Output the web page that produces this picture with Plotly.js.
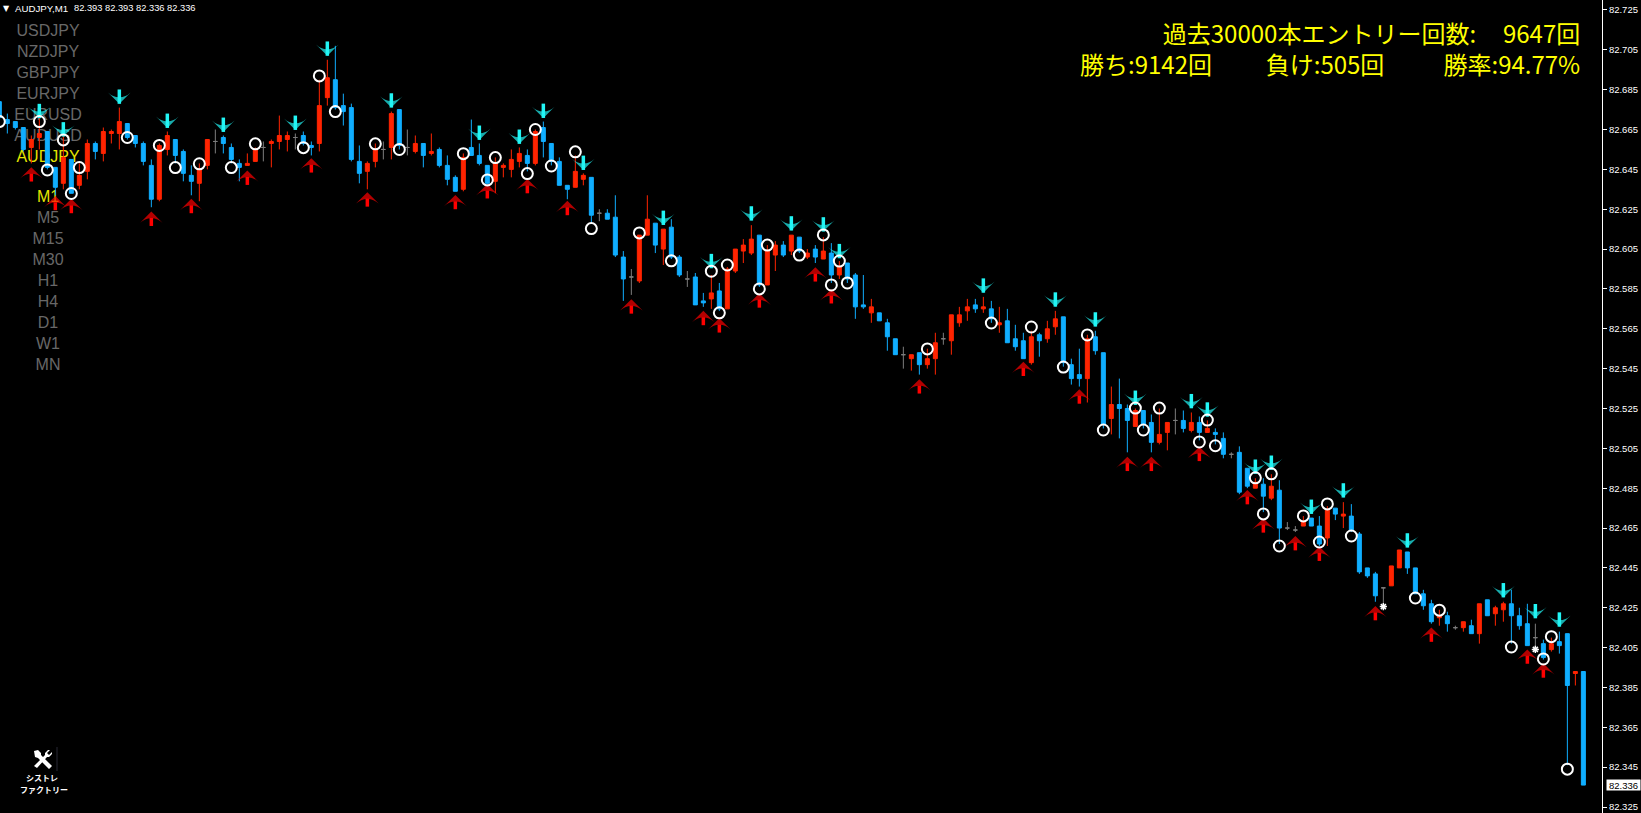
<!DOCTYPE html>
<html><head><meta charset="utf-8">
<script src="https://cdn.plot.ly/plotly-3.0.1.min.js"></script>
<style>html,body{margin:0;padding:0;background:#000;overflow:hidden}#c{width:1641px;height:813px}</style>
</head><body><div id="c"></div>
<script>
const opens=[82.679,82.670,82.669,82.666,82.656,82.661,82.664,82.646,82.638,82.650,
82.637,82.644,82.658,82.653,82.663,82.663,82.668,82.662,82.658,82.647,
82.630,82.655,82.660,82.654,82.642,82.638,82.647,82.659,82.661,82.656,
82.648,82.647,82.649,82.656,82.658,82.659,82.660,82.661,82.662,82.657,
82.658,82.681,82.690,82.677,82.676,82.649,82.644,82.649,82.655,82.656,
82.675,82.656,82.654,82.658,82.653,82.655,82.647,82.641,82.635,82.656,
82.652,82.647,82.639,82.646,82.645,82.649,82.652,82.648,82.666,82.658,
82.649,82.637,82.636,82.640,82.641,82.623,82.623,82.621,82.601,82.591,
82.589,82.612,82.618,82.605,82.616,82.601,82.590,82.591,82.579,82.580,
82.584,82.575,82.594,82.604,82.603,82.612,82.587,82.602,82.607,82.604,
82.611,82.601,82.605,82.600,82.603,82.592,82.598,82.592,82.577,82.573,
82.573,82.568,82.560,82.552,82.550,82.553,82.547,82.550,82.560,82.559,
82.568,82.574,82.577,82.575,82.575,82.567,82.569,82.560,82.559,82.548,
82.562,82.560,82.566,82.571,82.547,82.542,82.540,82.561,82.553,82.520,
82.527,82.525,82.516,82.524,82.518,82.508,82.513,82.519,82.519,82.514,
82.518,82.513,82.513,82.510,82.502,82.503,82.495,82.485,82.487,82.480,
82.484,82.465,82.464,82.466,82.470,82.466,82.460,82.475,82.471,82.471,
82.462,82.445,82.442,82.435,82.436,82.445,82.453,82.445,82.432,82.427,
82.420,82.421,82.415,82.415,82.416,82.412,82.429,82.422,82.424,82.427,
82.421,82.417,82.410,82.407,82.404,82.408,82.412,82.392,82.393];
const highs=[82.680,82.673,82.669,82.666,82.662,82.671,82.664,82.646,82.663,82.650,
82.648,82.660,82.659,82.666,82.665,82.676,82.668,82.662,82.659,82.650,
82.658,82.664,82.660,82.655,82.647,82.648,82.660,82.665,82.662,82.658,
82.650,82.653,82.656,82.659,82.660,82.672,82.664,82.663,82.664,82.659,
82.690,82.700,82.707,82.683,82.678,82.657,82.649,82.658,82.659,82.674,
82.675,82.665,82.662,82.658,82.663,82.656,82.652,82.642,82.653,82.670,
82.658,82.647,82.651,82.648,82.655,82.656,82.655,82.665,82.669,82.658,
82.651,82.637,82.652,82.643,82.641,82.625,82.625,82.632,82.604,82.595,
82.612,82.632,82.618,82.615,82.620,82.602,82.594,82.593,82.583,82.592,
82.588,82.596,82.605,82.610,82.617,82.612,82.607,82.609,82.609,82.612,
82.611,82.605,82.607,82.611,82.608,82.599,82.598,82.593,82.592,82.580,
82.573,82.570,82.560,82.556,82.552,82.553,82.555,82.563,82.563,82.572,
82.576,82.580,82.580,82.581,82.579,82.576,82.575,82.567,82.563,82.564,
82.563,82.569,82.574,82.571,82.550,82.555,82.562,82.564,82.553,82.536,
82.540,82.527,82.525,82.524,82.522,82.525,82.518,82.525,82.524,82.523,
82.521,82.519,82.515,82.513,82.503,82.506,82.495,82.490,82.490,82.492,
82.489,82.468,82.466,82.471,82.470,82.471,82.476,82.475,82.478,82.477,
82.463,82.445,82.443,82.435,82.446,82.454,82.453,82.445,82.434,82.429,
82.424,82.423,82.416,82.418,82.419,82.427,82.429,82.426,82.428,82.434,
82.425,82.427,82.417,82.409,82.410,82.413,82.412,82.393,82.393];
const lows=[82.668,82.663,82.665,82.654,82.648,82.655,82.645,82.632,82.635,82.633,
82.635,82.640,82.650,82.649,82.658,82.655,82.660,82.656,82.647,82.626,
82.629,82.652,82.648,82.639,82.632,82.629,82.645,82.653,82.653,82.648,
82.639,82.647,82.649,82.649,82.646,82.655,82.654,82.655,82.657,82.652,
82.654,82.677,82.675,82.667,82.649,82.638,82.635,82.646,82.650,82.650,
82.655,82.652,82.653,82.646,82.652,82.646,82.637,82.634,82.634,82.652,
82.647,82.637,82.633,82.641,82.641,82.646,82.644,82.647,82.651,82.647,
82.637,82.630,82.636,82.637,82.618,82.619,82.620,82.601,82.579,82.582,
82.588,82.612,82.603,82.597,82.600,82.591,82.586,82.577,82.576,82.575,
82.574,82.575,82.593,82.598,82.602,82.586,82.587,82.594,82.601,82.602,
82.603,82.600,82.598,82.600,82.588,82.590,82.588,82.570,82.575,82.568,
82.569,82.554,82.552,82.545,82.544,82.542,82.545,82.542,82.557,82.552,
82.566,82.569,82.573,82.573,82.568,82.563,82.558,82.554,82.550,82.547,
82.551,82.558,82.562,82.546,82.537,82.536,82.528,82.552,82.515,82.512,
82.510,82.503,82.516,82.515,82.503,82.507,82.504,82.512,82.513,82.513,
82.509,82.513,82.507,82.500,82.500,82.482,82.485,82.485,82.473,82.479,
82.457,82.464,82.463,82.466,82.466,82.456,82.456,82.469,82.465,82.463,
82.442,82.440,82.428,82.427,82.436,82.445,82.442,82.432,82.424,82.417,
82.416,82.413,82.414,82.413,82.412,82.407,82.421,82.416,82.418,82.407,
82.414,82.406,82.404,82.399,82.403,82.402,82.346,82.386,82.336];
const closes=[82.671,82.668,82.666,82.655,82.660,82.663,82.646,82.636,82.651,82.633,
82.642,82.658,82.654,82.664,82.664,82.669,82.661,82.658,82.649,82.630,
82.657,82.662,82.652,82.643,82.639,82.645,82.660,82.659,82.658,82.650,
82.646,82.648,82.655,82.656,82.659,82.662,82.662,82.661,82.658,82.656,
82.677,82.691,82.676,82.674,82.650,82.643,82.648,82.655,82.655,82.673,
82.657,82.656,82.658,82.652,82.654,82.647,82.640,82.634,82.651,82.652,
82.648,82.638,82.648,82.647,82.650,82.653,82.648,82.664,82.659,82.649,
82.637,82.635,82.644,82.642,82.622,82.623,82.620,82.602,82.590,82.591,
82.612,82.620,82.607,82.615,82.601,82.592,82.590,82.577,82.578,82.583,
82.575,82.595,82.605,82.607,82.610,82.587,82.604,82.607,82.602,82.612,
82.604,82.603,82.601,82.604,82.592,82.596,82.590,82.576,82.576,82.576,
82.569,82.561,82.552,82.552,82.552,82.547,82.550,82.558,82.560,82.572,
82.572,82.576,82.575,82.576,82.570,82.568,82.558,82.556,82.550,82.561,
82.559,82.565,82.570,82.548,82.540,82.540,82.560,82.554,82.517,82.527,
82.525,82.519,82.524,82.517,82.508,82.512,82.518,82.519,82.515,82.518,
82.513,82.515,82.512,82.502,82.502,82.483,82.486,82.488,82.481,82.486,
82.465,82.465,82.464,82.468,82.466,82.457,82.474,82.472,82.472,82.464,
82.443,82.441,82.431,82.435,82.446,82.454,82.445,82.432,82.426,82.418,
82.421,82.417,82.415,82.418,82.412,82.427,82.421,82.425,82.427,82.421,
82.416,82.406,82.410,82.400,82.407,82.406,82.386,82.393,82.336];

const cyanBars=[5,8,15,21,28,37,41,49,60,65,68,73,83,89,94,99,103,105,123,132,137,142,149,151,157,159,164,168,176,188,192,195];
const cyanTips=[82.6707,82.6615,82.6779,82.6658,82.6638,82.6648,82.7020,82.6760,82.6598,82.6578,82.6708,82.6447,82.6171,82.5954,82.6193,82.6143,82.6138,82.6004,82.5831,82.5761,82.5661,82.5268,82.5251,82.5209,82.4922,82.4942,82.4721,82.4803,82.4552,82.4302,82.4197,82.4155];
const redBars=[4,7,9,19,24,31,39,46,57,61,66,71,79,88,90,95,102,104,115,128,135,141,144,150,156,158,162,165,172,179,191,193];
const redTips=[82.6461,82.6317,82.6302,82.6238,82.6302,82.6444,82.6506,82.6335,82.6322,82.6376,82.6402,82.6292,82.5798,82.5740,82.5703,82.5828,82.5959,82.5849,82.5397,82.5485,82.5346,82.5008,82.5008,82.5058,82.4841,82.4699,82.4610,82.4557,82.4259,82.4151,82.4041,82.3971];
const circleBars=[0,5,6,8,9,10,16,20,22,25,29,32,38,40,42,47,50,58,61,62,66,67,69,72,74,80,84,89,90,91,95,96,100,103,104,105,106,116,124,129,133,136,138,142,143,145,150,151,152,157,158,159,160,163,165,166,169,177,180,189,193,194,196];
const circlePrices=[82.669,82.669,82.6447,82.6598,82.6329,82.6459,82.661,82.657,82.6459,82.6478,82.6459,82.6578,82.6559,82.6919,82.674,82.6578,82.655,82.6529,82.6397,82.6509,82.6429,82.665,82.6467,82.6538,82.6153,82.6131,82.5991,82.5939,82.573,82.597,82.585,82.607,82.602,82.6121,82.587,82.599,82.588,82.5549,82.5679,82.5659,82.5458,82.5619,82.5142,82.5252,82.5142,82.5252,82.5082,82.5192,82.5063,82.4902,82.4721,82.4922,82.456,82.4711,82.458,82.4771,82.461,82.4299,82.4238,82.4053,82.3993,82.4105,82.344];
const starBars=[173,192];
const starPrices=[82.4256,82.4041];

const priceTicks=[82.725,82.705,82.685,82.665,82.645,82.625,82.605,82.585,82.565,82.545,82.525,82.505,82.485,82.465,82.445,82.425,82.405,82.385,82.365,82.345,82.325];
const lastPrice=82.336;
const symbols=['USDJPY','NZDJPY','GBPJPY','EURJPY','EURUSD','AUDUSD','AUDJPY'];
const periods=['M1','M5','M15','M30','H1','H4','D1','W1','MN'];
const menuLabels=symbols.concat(periods);
const menuRows=[32,53,74,95,116,137,157.7,198,219,240,261,282,303,324,345,366];
const menuColors=menuLabels.map(s=>(s==='AUDJPY'||s==='M1')?'#e6e600':'#686868');

const RED='#ff2400',BLUE='#10aeff',GRAY='#7d7d7d';
const idx=opens.map((_,i)=>i);
const pick=(arr,f)=>arr.filter((_,i)=>f(i));
const doji=i=>opens[i]===closes[i], body=i=>opens[i]!==closes[i];
const candle=(f,inc,dec)=>({type:'candlestick',xaxis:'x2',yaxis:'y2',x:pick(idx,f),open:pick(opens,f),high:pick(highs,f),low:pick(lows,f),close:pick(closes,f),
 increasing:{line:{color:inc,width:1},fillcolor:inc},decreasing:{line:{color:dec,width:1},fillcolor:dec},whiskerwidth:0,hoverinfo:'skip',showlegend:false});
function arrowTrace(bars,tips,dir,color){
 const x=[],y=[],size=[];
 bars.forEach((b,i)=>{x.push(b,b,null);y.push(tips[i]+dir*0.0072,tips[i],null);size.push(0,16,0);});
 return {type:'scatter',mode:'lines+markers',xaxis:'x2',yaxis:'y2',x,y,connectgaps:false,line:{color,width:3.5},
  marker:{symbol:'arrow-wide',size,color,angle:dir>0?180:0,line:{width:0}},hoverinfo:'skip',showlegend:false};
}
const data=[
 {type:'scatter',mode:'text',x:menuRows.map(()=>48),y:menuRows,text:menuLabels,textposition:'middle center',
  textfont:{family:'Liberation Sans',size:16,color:menuColors},hoverinfo:'skip',showlegend:false},
 candle(body,RED,BLUE),
 candle(doji,GRAY,GRAY),
 arrowTrace(cyanBars,cyanTips,1,'#22f5f5'),
 arrowTrace(redBars,redTips,-1,'#ff0000'),
 {type:'scatter',mode:'markers',xaxis:'x2',yaxis:'y2',x:circleBars,y:circlePrices,marker:{symbol:'circle-open',size:11,line:{color:'#ffffff',width:2},color:'#ffffff'},hoverinfo:'skip',showlegend:false},
 {type:'scatter',mode:'markers',xaxis:'x2',yaxis:'y2',x:starBars,y:starPrices,marker:{symbol:'asterisk-open',size:6,line:{color:'#ffffff',width:1.5},color:'#ffffff'},hoverinfo:'skip',showlegend:false}
];
const note=(text,x,y,o)=>Object.assign({text,x,y,xref:'x',yref:'y',showarrow:false,xanchor:'left',yanchor:'middle',borderpad:0,
 font:{family:'Liberation Sans',size:9.7,color:'#ffffff'}},o||{});
const cjk={family:'Noto Sans CJK JP',size:24,color:'#ffff00'};
const nb=n=>'\u00a0'.repeat(n);
const layout={
 width:1641,height:813,paper_bgcolor:'#000',plot_bgcolor:'#000',showlegend:false,dragmode:false,
 margin:{l:0,r:39,t:0,b:0,pad:0},boxgap:0.5,boxgroupgap:0,
 xaxis:{range:[0,1602],visible:false,fixedrange:true},
 yaxis:{range:[813,0],visible:false,fixedrange:true},
 xaxis2:{overlaying:'x',anchor:'y2',range:[0.084,200.33],visible:false,fixedrange:true,rangeslider:{visible:false}},
 yaxis2:{overlaying:'y',anchor:'x2',side:'right',range:[82.322,82.730],fixedrange:true,showgrid:false,zeroline:false,
  showline:true,linecolor:'#ffffff',linewidth:1,ticks:'outside',ticklen:4,tickwidth:1,tickcolor:'#ffffff',
  tickvals:priceTicks,ticktext:priceTicks.map(v=>v.toFixed(3)),tickfont:{family:'Liberation Sans',size:9.5,color:'#ffffff'}},
 annotations:[
  note('▼',2,8,{font:{family:'DejaVu Sans',size:8,color:'#fff'}}),
  note('AUDJPY,M1',14,8),
  note('82.393 82.393 82.336 82.336',73,8,{font:{family:'Liberation Sans',size:9.3,color:'#fff'}}),
  note('過去30000本エントリー回数:'+nb(5)+'9647回<br>勝ち:9142回'+nb(10)+'負け:505回'+nb(11)+'勝率:94.77%',1581,48,{xanchor:'right',align:'right',font:cjk}),
  note('シストレ',42,777,{xanchor:'center',font:{family:'Noto Sans CJK JP',size:8,color:'#fff',weight:700}}),
  note('ファクトリー',44,789,{xanchor:'center',font:{family:'Noto Sans CJK JP',size:8,color:'#fff',weight:700}}),
  {text:lastPrice.toFixed(3),xref:'paper',x:1,xshift:4,xanchor:'left',yref:'y2',y:lastPrice,yanchor:'middle',showarrow:false,bgcolor:'#ffffff',borderpad:0,
   width:33,height:10,font:{family:'Liberation Sans',size:9.5,color:'#000'}}
 ],
 shapes:[
  {type:'path',xref:'x',yref:'y',path:'M34,751 L38,750 L41,753 L41,755 L52,766 L49,769 L38,758 L35,757 Z',fillcolor:'#fff',line:{width:0}},
  {type:'path',xref:'x',yref:'y',path:'M48,750 L50,750 L47,753 L49,755 L52,752 L52,754 L49,757 L47,757 L37,768 L34,766 L45,755 L45,753 Z',fillcolor:'#fff',line:{width:0}},
  {type:'line',xref:'x',yref:'y',x0:57,x1:57,y0:747,y1:771,line:{color:'#14141a',width:2}}
 ]
};
Plotly.newPlot('c',data,layout,{displayModeBar:false,staticPlot:true,responsive:false});
</script></body></html>
